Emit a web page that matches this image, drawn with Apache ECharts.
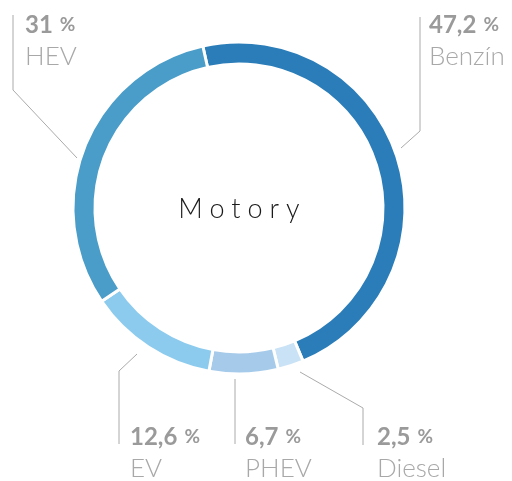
<!DOCTYPE html>
<html>
<head>
<meta charset="utf-8">
<script src="https://cdn.jsdelivr.net/npm/echarts@6/dist/echarts.min.js"></script>
<style>
    html, body { margin: 0; padding: 0; background: #fff; }
    #wrap { position: relative; width: 512px; height: 481px; }
    #chart { width: 512px; height: 481px; }
    #center {
        position: absolute; left: 239px; top: 207px;
        transform: translate(-50%, -50%);
        font-family: Lato, sans-serif; font-weight: 300; font-size: 27px;
        letter-spacing: 7px; padding-left: 7px; color: #1a1a1a; white-space: nowrap;
    }
</style>
</head>
<body>
<div id="wrap">
    <div id="chart"></div>
    <div id="center">Motory</div>
</div>
<script>
    // podíl motorizací (%)
    var names = ['Benzín', 'Diesel', 'PHEV', 'EV', 'HEV'];
    var values = [47.2, 2.5, 6.7, 12.6, 31];
    var colors = ['#2a7db8', '#c9e2f5', '#a6cbea', '#8ccbee', '#4a9dc8'];

    // umístění popisků a vodicích čar
    var labelPos = [[429, 9], [377, 421], [245, 421], [130, 421], [25, 9]];
    var linePts = [
        [[401, 148], [420, 131], [420, 17]],
        [[300, 372], [363, 408], [363, 445]],
        [[235, 379], [235, 400], [235, 444]],
        [[137, 354], [119, 371], [119, 444]],
        [[77, 158], [13, 90], [13, 15]]
    ];

    var myChart = echarts.init(document.getElementById('chart'));

    var data = [];
    for (var i = 0; i < names.length; i++) {
        data.push({ name: names[i], value: values[i] });
    }

    var option = {
        color: colors,
        animation: false,
        series: [{
            type: 'pie',
            center: [239, 208],
            radius: [144, 166],
            startAngle: 102.6,
            clockwise: true,
            avoidLabelOverlap: false,
            itemStyle: { borderColor: '#fff', borderWidth: 3 },
            label: {
                show: true,
                formatter: function (p) {
                    return '{v|' + String(p.value).replace('.', ',') + '}{p|%}\n{n|' + p.name + '}';
                },
                rich: {
                    v: { fontFamily: 'Lato', fontWeight: 'bold', fontSize: 24, color: '#9a9a9a', lineHeight: 32 },
                    p: { fontFamily: 'Lato', fontWeight: 'bold', fontSize: 19, color: '#9a9a9a', lineHeight: 32, padding: [0, 0, 0, 7] },
                    n: { fontFamily: 'Lato', fontWeight: 300, fontSize: 26, color: '#a8a8a8', lineHeight: 32 }
                }
            },
            labelLine: { show: true, lineStyle: { color: '#aaaaaa', width: 1 } },
            labelLayout: function (params) {
                var i = params.dataIndex;
                return {
                    x: labelPos[i][0],
                    y: labelPos[i][1],
                    align: 'left',
                    verticalAlign: 'top',
                    labelLinePoints: linePts[i]
                };
            },
            data: data
        }]
    };

    myChart.setOption(option);
</script>
</body>
</html>
